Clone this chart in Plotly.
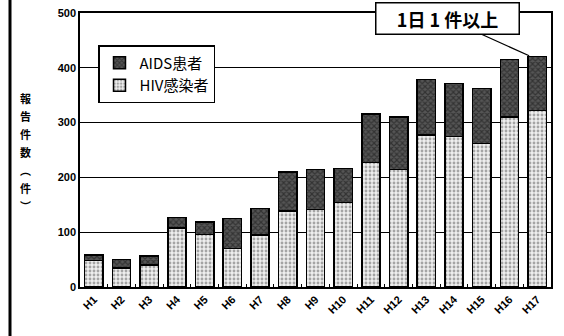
import plotly.graph_objects as go

years = ["H1", "H2", "H3", "H4", "H5", "H6", "H7", "H8", "H9", "H10",
         "H11", "H12", "H13", "H14", "H15", "H16", "H17"]
hiv = [48, 35, 40, 108, 96, 70, 95, 139, 141, 154, 227, 214, 277, 275, 262, 310, 322]
aids = [10, 15, 17, 19, 23, 55, 48, 71, 73, 62, 89, 96, 102, 96, 100, 105, 99]
y_ticks = [0, 100, 200, 300, 400, 500]
y_title_chars = ["報", "告", "件", "数", "︵", "件", "︶"]

W, H = 564, 336
ML, MR, MT, MB = 80, 13, 13, 49
pw, ph = W - ML - MR, H - MT - MB

def px_x(p):
    return (p - ML) / pw

def px_y(p):
    return (H - MB - p) / ph

fig = go.Figure()
fig.add_trace(go.Bar(
    x=years, y=hiv, name="HIV感染者",
    marker=dict(color="#ffffff", line=dict(color="#000000", width=1.5),
                pattern=dict(shape=".", fgcolor="#5a5a5a", bgcolor="#eeeeee", size=4, solidity=0.4)),
))
fig.add_trace(go.Bar(
    x=years, y=aids, name="AIDS患者",
    marker=dict(color="#2a2a2a", line=dict(color="#000000", width=1.5),
                pattern=dict(shape="x", fgcolor="#111111", bgcolor="#555555", size=4, solidity=0.5)),
))

fig.update_layout(
    width=W, height=H,
    margin=dict(l=ML, r=MR, t=MT, b=MB, autoexpand=False),
    barmode="stack", bargap=0.34,
    plot_bgcolor="white", paper_bgcolor="white",
    font=dict(family="Liberation Sans, Arial, sans-serif", color="black"),
    legend=dict(
        x=px_x(98), y=px_y(45), xanchor="left", yanchor="top",
        traceorder="reversed",
        bgcolor="white", bordercolor="black", borderwidth=1.5,
        font=dict(family="Noto Sans CJK JP", size=15, color="black"),
        itemwidth=30, tracegroupgap=8,
    ),
    xaxis=dict(
        type="category", tickangle=-45, showline=True, linecolor="black", linewidth=1.5,
        mirror=True, ticks="inside", tickson="boundaries", ticklen=3, tickcolor="black",
        automargin=False,
        tickmode="array", tickvals=years, ticktext=["<b>" + t + "</b>" for t in years],
        tickfont=dict(family="Liberation Sans", size=11, color="black"),
    ),
    yaxis=dict(
        range=[0, 500], tickvals=y_ticks, ticktext=["<b>%d</b>" % v for v in y_ticks],
        showgrid=True, gridcolor="black",
        gridwidth=1, showline=True, linecolor="black", linewidth=1.5, mirror=True,
        ticks="", zeroline=False, automargin=False,
        tickfont=dict(family="Liberation Sans", size=11, color="black"),
    ),
)

# vertical y-axis title, one character per annotation
for i, ch in enumerate(y_title_chars):
    fig.add_annotation(
        text=ch,
        xref="paper", yref="paper", x=px_x(25), y=px_y(98 + i * 18),
        xanchor="center", yanchor="middle",
        showarrow=False,
        font=dict(family="Noto Sans CJK JP", size=11, color="black", weight="bold"),
    )

# callout
fig.add_annotation(
    text="<b>1日 1 件以上</b>", x="H17", y=422, xshift=-8,
    ax=-82, ay=-37,
    showarrow=True, arrowhead=0, arrowwidth=1.3, arrowcolor="black",
    bgcolor="white", bordercolor="black", borderwidth=1.5, borderpad=3,
    width=136, height=24,
    font=dict(family="Noto Sans CJK JP", size=18, color="black"),
)

# page border line at left
fig.add_shape(type="line", xref="paper", yref="paper",
              x0=px_x(10), x1=px_x(10), y0=px_y(0), y1=px_y(336),
              line=dict(color="black", width=3))

fig.write_html("out.html")
